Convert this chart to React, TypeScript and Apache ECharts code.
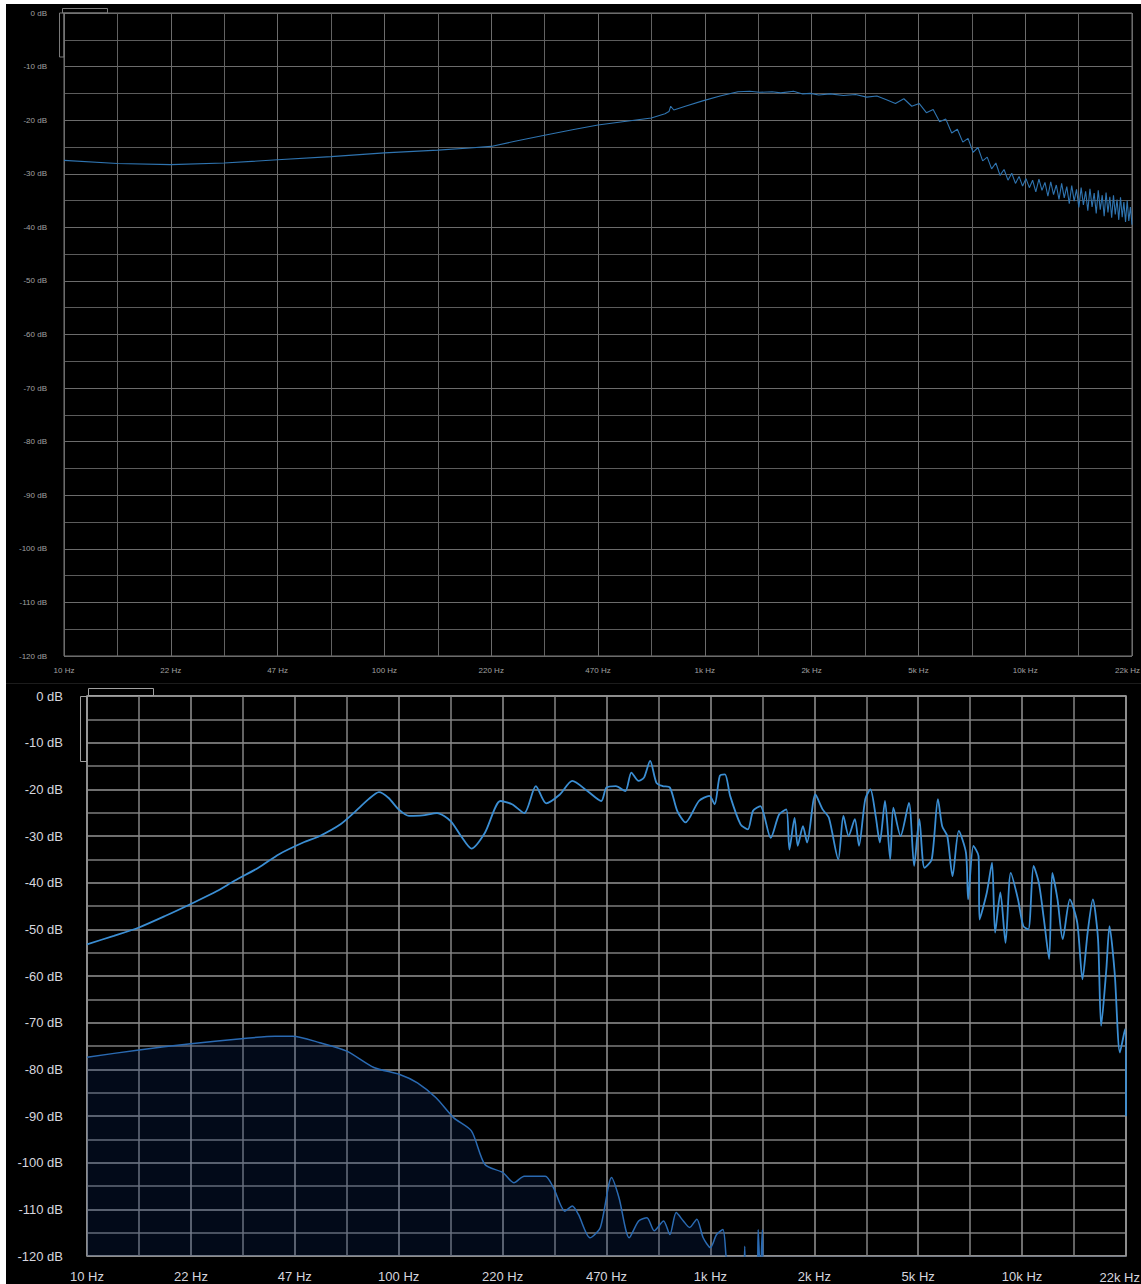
import React, { useEffect, useRef } from "react";
import * as echarts from "echarts";

// ---- axis ticks ----
const xTickLabels = ["10 Hz", "22 Hz", "47 Hz", "100 Hz", "220 Hz", "470 Hz", "1k Hz", "2k Hz", "5k Hz", "10k Hz", "22k Hz"];
const F_MIN = 10;
const F_MAX = 22000;
const DB_MIN = -120;
const DB_MAX = 0;

// ---- top panel: spectrum (Hz, dB) ----
const topFreq = [
  10, 14.7, 21.6, 31.7, 46.6, 68.5, 100.6, 147.8, 186, 217, 260, 319, 390, 469, 560, 689, 760, 782, 792, 810,
  880, 997, 1130, 1286, 1400, 1500, 1645, 1750, 1919, 2050, 2167, 2300,
  2500, 2750, 3000, 3250, 3500, 3750, 4000, 4250, 4500, 4750, 5000, 5250, 5500, 5750, 6000, 6250, 6500, 6750,
  7000, 7250, 7500, 7750, 8000, 8250, 8500, 8750, 9000, 9250, 9500, 9750, 10000, 10250, 10500, 10750, 11000,
  11250, 11500, 11750, 12000, 12250, 12500, 12750, 13000, 13250, 13500, 13750, 14000, 14250, 14500, 14750,
  15000, 15250, 15500, 15750, 16000, 16250, 16500, 16750, 17000, 17250, 17500, 17750, 18000, 18250, 18500,
  18750, 19000, 19250, 19500, 19750, 20000, 20250, 20500, 20750, 21000, 21250, 21500, 21750, 22000,
];
const topDb = [
  -27.5, -28.1, -28.3, -28.0, -27.4, -26.8, -26.1, -25.6, -25.2, -24.9, -23.9, -22.8, -21.8, -20.9, -20.3, -19.6,
  -18.8, -18.4, -17.4, -18.1, -17.4, -16.4, -15.5, -14.7, -14.6, -14.8, -14.7, -14.9, -14.6, -15.1, -15.0, -15.3,
  -15.1, -15.4, -15.2, -15.7, -15.5, -16.2, -16.9, -16.0, -17.4, -16.9, -18.6, -18.0, -20.3, -19.8, -22.4, -21.7,
  -24.1, -23.4, -26.0, -25.1, -27.6, -26.9, -29.1, -28.0, -30.3, -29.2, -31.2, -29.9, -31.8, -30.5, -32.3, -30.9,
  -32.6, -31.2, -33.4, -31.0, -33.1, -31.6, -34.2, -31.5, -33.9, -32.1, -34.8, -31.8, -34.5, -32.4, -35.6, -32.2,
  -35.1, -32.9, -36.3, -32.6, -35.8, -33.3, -36.9, -32.8, -36.2, -33.6, -37.4, -33.1, -36.7, -34.0, -37.9, -33.5,
  -37.2, -34.3, -38.2, -34.0, -37.6, -34.8, -38.6, -34.4, -38.1, -35.3, -39.0, -35.0, -38.8, -36.2, -39.5,
];

// ---- bottom panel: spectrum (Hz, dB) ----
const bottomFreq = [
  10, 12.2, 14.7, 17.9, 22.0, 26.2, 29.8, 35.6, 41.5, 49.6,
  56.1, 65.4, 72.3, 80.5, 86.9, 93.2, 100.6, 108.6, 120, 133.7,
  147.8, 159.6, 172.4, 190.6, 213.8, 233, 255, 278, 300, 332,
  364, 408, 451, 469, 503, 539, 564, 595, 619, 648,
  679, 711, 750, 792, 842, 930, 1005, 1045, 1086, 1128,
  1172, 1266, 1336, 1389, 1466, 1583, 1684, 1777, 1818, 1889,
  1934, 2010, 2073, 2204, 2325, 2436, 2611, 2712, 2819, 2952,
  3044, 3189, 3313, 3444, 3552, 3691, 3836, 3926, 4142, 4407,
  4580, 4760, 4944, 5218, 5463, 5638, 5855, 6087, 6375, 6724,
  6833, 7102, 7380, 7437, 7848, 8155, 8344, 8674, 9014, 9369,
  9888, 10278, 10675, 11093, 11532, 11980, 12449, 12745, 13245, 13765,
  14519, 15335, 15936, 16558, 17211, 17884, 18302, 19016, 19464, 20229,
  21024, 21840, 22000,
];
const bottomDb = [
  -53.2, -51.4, -49.6, -47.1, -44.3, -41.8, -39.6, -36.8, -33.9, -31.4,
  -30, -27.5, -25, -22.1, -20.6, -21.8, -24.3, -25.7, -25.6, -25.1,
  -26.8, -30, -32.7, -29.3, -22.5, -23.2, -25.1, -19.3, -23, -21.1,
  -18.2, -20.4, -22.5, -19.6, -19.3, -20.4, -16.4, -18.2, -17.5, -13.9,
  -18.6, -19.3, -19.6, -24.6, -27.1, -22.5, -21.4, -23.2, -17.1, -16.8,
  -21.4, -27.5, -28.6, -24.6, -23.6, -30.4, -25.4, -24.3, -32.9, -26.1,
  -32.1, -27.9, -31.4, -21.1, -24.3, -26.1, -35, -25.7, -30, -26.4,
  -32.1, -22.1, -20, -25.7, -31.4, -22.5, -35, -23.9, -30, -22.9,
  -36.4, -26.4, -36.8, -35, -22.1, -27.9, -30, -38.6, -28.9, -33.6,
  -43.6, -32.1, -34.3, -47.9, -42.1, -35.7, -50.7, -42.1, -52.9, -37.9,
  -43.6, -49.3, -50, -36.4, -40, -47.9, -56.4, -37.9, -43.6, -52.1,
  -43.6, -48.6, -60.7, -50.7, -43.6, -52.1, -70.7, -58.6, -49.3, -59.3,
  -76.4, -71.4, -90,
];

// ---- bottom panel: noise floor (Hz, dB) ----
const floorFreq = [
  10, 14.5, 21.6, 32, 40.3, 45.9, 56.1, 68.5, 83.7, 101.4,
  115.6, 132.7, 151.3, 172.4, 190.6, 217.3, 236.4, 255, 298, 316.8,
  344.6, 364, 381, 414.8, 448, 487, 514.5, 555, 595, 633,
  668, 716, 750, 786, 829, 868, 916, 960, 1013, 1060,
  1111, 1137, 1182, 1286, 1306, 1321, 1421, 1443, 1466, 1488,
  1512, 22000,
];
const floorDb = [
  -77.4, -75.9, -74.5, -73.4, -72.9, -72.9, -74.3, -76.1, -79.6, -81.1,
  -82.9, -86.1, -90.4, -93.2, -100.4, -102.1, -104.3, -102.9, -102.9, -105.4,
  -110.4, -109.3, -111.1, -116.1, -113.9, -103.2, -107.5, -116.1, -112.5, -111.8,
  -114.6, -112.5, -115.4, -110.7, -112.5, -113.9, -112.1, -116.1, -118.2, -115.4,
  -114.3, -120, -130, -130, -117.9, -130, -130, -114.4, -125, -114.4,
  -130, -130,
];

const toPos = (f: number) => (Math.log10(f / F_MIN) / Math.log10(F_MAX / F_MIN)) * 10;
const pairs = (fs: number[], ds: number[]) => fs.map((f, i) => [toPos(f), ds[i]]);
const LAST = xTickLabels.length - 1;

const FONT = "'Liberation Sans', Arial, Helvetica, sans-serif";

function mkX(gridIndex: number, color: string, fontSize: number, margin: number, lineColor: string, minorColor: string, lw: number) {
  return {
    type: "value",
    gridIndex,
    min: 0,
    max: 10,
    interval: 1,
    axisLine: { show: false },
    axisTick: { show: false },
    axisLabel: {
      color,
      fontSize,
      fontFamily: FONT,
      margin,
      // the last label would run past the page edge; it is drawn right-aligned as a graphic text instead
      formatter: (v: number) => (Math.round(v) === LAST ? "" : xTickLabels[Math.round(v)] ?? ""),
    },
    splitLine: { show: true, lineStyle: { color: lineColor, width: lw } },
    minorTick: { show: false, splitNumber: 2 },
    minorSplitLine: { show: true, lineStyle: { color: minorColor, width: lw } },
  };
}

function mkY(gridIndex: number, color: string, fontSize: number, margin: number, lineColor: string, minorColor: string, lw: number) {
  return {
    type: "value",
    gridIndex,
    min: DB_MIN,
    max: DB_MAX,
    interval: 10,
    axisLine: { show: false },
    axisTick: { show: false },
    axisLabel: {
      color,
      fontSize,
      fontFamily: FONT,
      margin,
      formatter: (v: number) => `${v} dB`,
    },
    splitLine: { show: true, lineStyle: { color: lineColor, width: lw } },
    minorTick: { show: false, splitNumber: 2 },
    minorSplitLine: { show: true, lineStyle: { color: minorColor, width: lw } },
  };
}

export default function App() {
  const ref = useRef<HTMLDivElement>(null);

  useEffect(() => {
    if (!ref.current) return;
    const chart = echarts.init(ref.current, undefined, { renderer: "svg", width: 1141, height: 1284 });

    const option: any = {
      animation: false,
      backgroundColor: "#ffffff",
      graphic: {
        elements: [
          { type: "rect", z: -100, shape: { x: 6, y: 4, width: 1135, height: 1280 }, style: { fill: "#000000" } },
          { type: "line", z: -99, shape: { x1: 6, y1: 683.5, x2: 1141, y2: 683.5 }, style: { stroke: "#1c1c1c", lineWidth: 1 } },
          { type: "rect", z: 50, shape: { x: 62.5, y: 8.5, width: 45, height: 4.5 }, style: { fill: "none", stroke: "#7a7a7a", lineWidth: 1 } },
          { type: "rect", z: 50, shape: { x: 59.5, y: 13, width: 4.5, height: 44 }, style: { fill: "none", stroke: "#7a7a7a", lineWidth: 1 } },
          { type: "rect", z: 50, shape: { x: 88.5, y: 688.5, width: 65, height: 7 }, style: { fill: "none", stroke: "#a0a0a0", lineWidth: 1 } },
          { type: "rect", z: 50, shape: { x: 80.5, y: 696.5, width: 6.5, height: 65 }, style: { fill: "none", stroke: "#a0a0a0", lineWidth: 1 } },
          {
            type: "text", z: 50, x: 1140, y: 670,
            style: { text: xTickLabels[LAST], fill: "#a0a0a0", fontSize: 8, fontFamily: FONT, align: "right", verticalAlign: "middle" },
          },
          {
            type: "text", z: 50, x: 1140, y: 1277,
            style: { text: xTickLabels[LAST], fill: "#d6d6de", fontSize: 13, fontFamily: FONT, align: "right", verticalAlign: "middle" },
          },
        ],
      },
      grid: [
        {
          left: 64, top: 13, width: 1068, height: 643,
          outerBoundsMode: "none", containLabel: false,
          show: true, borderColor: "#787878", borderWidth: 1, backgroundColor: "transparent",
        },
        {
          left: 87, top: 696, width: 1039, height: 560,
          outerBoundsMode: "none", containLabel: false,
          show: true, borderColor: "#a0a0a0", borderWidth: 1.5, backgroundColor: "transparent",
        },
      ],
      xAxis: [
        mkX(0, "#a0a0a0", 8, 10, "#6c6c6c", "#626262", 1),
        mkX(1, "#d6d6de", 13, 14, "#959595", "#848484", 1.5),
      ],
      yAxis: [
        mkY(0, "#a0a0a0", 8, 17, "#6c6c6c", "#5c5c5c", 1),
        mkY(1, "#d6d6de", 13, 24, "#959595", "#7c7c7c", 1.5),
      ],
      series: [
        {
          type: "line",
          xAxisIndex: 0,
          yAxisIndex: 0,
          data: pairs(topFreq, topDb),
          symbol: "none",
          clip: true,
          lineStyle: { color: "#2f74b0", width: 1.1 },
          z: 3,
        },
        {
          type: "line",
          xAxisIndex: 1,
          yAxisIndex: 1,
          data: pairs(floorFreq, floorDb),
          symbol: "none",
          clip: true,
          smooth: 0.25,
          lineStyle: { color: "#2a6ab2", width: 1.5 },
          areaStyle: { color: "rgba(10,45,110,0.32)", origin: "start" },
          z: 3,
        },
        {
          type: "line",
          xAxisIndex: 1,
          yAxisIndex: 1,
          data: pairs(bottomFreq, bottomDb),
          symbol: "none",
          clip: true,
          smooth: 0.25,
          lineStyle: { color: "#3b8ed3", width: 1.8 },
          z: 4,
        },
      ],
    };

    chart.setOption(option);
    return () => chart.dispose();
  }, []);

  return (
    <div
      ref={ref}
      style={{ position: "fixed", left: 0, top: 0, width: 1141, height: 1284, overflow: "hidden" }}
    />
  );
}
